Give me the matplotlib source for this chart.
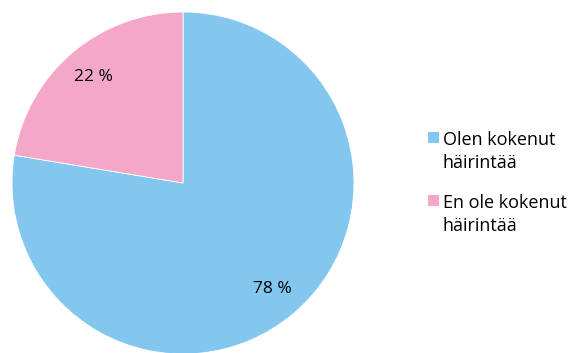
import matplotlib
matplotlib.use("Agg")
import matplotlib.pyplot as plt
from matplotlib.patches import Rectangle

plt.rcParams['font.family'] = ['Open Sans', 'DejaVu Sans']

labels = ['Olen kokenut\nhäirintää', 'En ole kokenut\nhäirintää']
values = [77.6, 22.4]
colors = ['#83C7EF', '#F4A7C9']

W, H = 573, 353
fig = plt.figure(figsize=(W / 100, H / 100), dpi=100)
# pie centre at (183, 183) px, radius ~171 px
ax = fig.add_axes([12 / W, (H - 183 - 171) / H, 342 / W, 342 / H])

wedges, texts, autotexts = ax.pie(
    values, colors=colors, startangle=90, counterclock=False,
    autopct=lambda p: '{:.0f} %'.format(p), pctdistance=0.81,
    wedgeprops=dict(linewidth=0.6, edgecolor='white'),
    textprops=dict(fontsize=12.5, color='black'))
ax.set_aspect('equal')
ax.set_xlim(-1, 1)
ax.set_ylim(-1, 1)

# legend, drawn by hand so the marker sits on the first text line
for i, (lab, col) in enumerate(zip(labels, colors)):
    base = 145 + i * 63
    fig.patches.append(Rectangle((428 / W, 1 - (base - 2) / H), 11 / W, 11 / H,
                                 transform=fig.transFigure, facecolor=col,
                                 edgecolor='none'))
    for j, line in enumerate(lab.split('\n')):
        fig.text(443 / W, 1 - (base + j * 23) / H, line, fontsize=13,
                 va='baseline', ha='left')

fig.savefig('out.png', dpi=100)
